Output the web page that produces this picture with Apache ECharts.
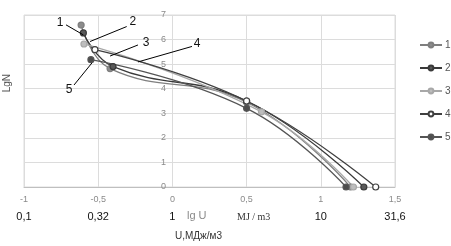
<!DOCTYPE html>
<html>
<head>
<meta charset="utf-8">
<script src="https://cdn.jsdelivr.net/npm/echarts@6/dist/echarts.min.js"></script>
<style>
  html, body { margin: 0; padding: 0; background: #fff; }
  #chart { width: 451px; height: 246px; }
</style>
</head>
<body>
<div id="chart"></div>
<script>
"use strict";
// lg U -> lg N curves, 5 series
const seriesNames = ['1', '2', '3', '4', '5'];
const s1 = [[-0.615, 6.59], [-0.42, 4.82], [0.5, 3.45], [1.20, 0]];
const s2 = [[-0.60, 6.27], [-0.40, 4.90], [0.5, 3.50], [1.29, 0]];
const s3 = [[-0.596, 5.82], [0.6, 3.06], [1.22, 0]];
const s4 = [[-0.522, 5.59], [0.5, 3.50], [1.37, 0]];
const s5 = [[-0.549, 5.18], [0.5, 3.20], [1.17, 0]];
const seriesData = [s1, s2, s3, s4, s5];

// second row of x labels: U in MJ/m3
const lgTicks = [-1, -0.5, 0, 0.5, 1, 1.5];
const uTicks = ['0,1', '0,32', '1', '', '10', '31,6'];

// callout leaders (data coords)
const calloutFrom = [[-0.717, 6.6], [-0.308, 6.53], [-0.232, 5.78], [0.132, 5.72], [-0.663, 4.15]];
const calloutTo = [[-0.60, 6.19], [-0.555, 5.92], [-0.42, 5.33], [-0.232, 5.09], [-0.542, 5.05]];
const calloutText = [[-0.757, 6.68], [-0.266, 6.72], [-0.178, 5.87], [0.166, 5.83], [-0.697, 3.95]];

const lineColors = ['#7f7f7f', '#3a3a3a', '#a8a8a8', '#404040', '#555555'];
const markerFill = ['#8c8c8c', '#595959', '#bdbdbd', '#ffffff', '#4d4d4d'];

function fmt(v) { return String(v).replace('.', ','); }

var myChart = echarts.init(document.getElementById('chart'));

var series = seriesData.map(function (d, i) {
    return {
        name: seriesNames[i],
        type: 'line',
        smooth: 0.45,
        data: d,
        symbol: 'circle',
        symbolSize: 6,
        lineStyle: { color: lineColors[i], width: 1.3 },
        itemStyle: { color: markerFill[i], borderColor: lineColors[i], borderWidth: 1.2 },
        z: 3
    };
});

// leader lines + numbers
series.push({
    name: 'callouts',
    type: 'line',
    data: [],
    markLine: {
        silent: true,
        symbol: 'none',
        label: { show: false },
        lineStyle: { color: '#000', width: 1, type: 'solid' },
        data: calloutFrom.map(function (p, i) {
            return [{ coord: p }, { coord: calloutTo[i] }];
        })
    },
    markPoint: {
        silent: true,
        symbol: 'circle',
        symbolSize: 1,
        itemStyle: { color: 'rgba(0,0,0,0)' },
        label: { show: true, position: 'inside', color: '#111', fontSize: 12, fontFamily: 'Liberation Sans' },
        data: calloutText.map(function (p, i) {
            return { coord: p, value: seriesNames[i] };
        })
    }
});

var option = {
    animation: false,
    textStyle: { fontFamily: 'Liberation Sans' },
    grid: { left: 24, right: 56, top: 15, bottom: 59 },
    legend: {
        data: seriesNames,
        orient: 'vertical',
        left: 414,
        top: 35,
        itemGap: 13,
        itemWidth: 22,
        itemHeight: 6,
        textStyle: { color: '#555', fontSize: 10, padding: [0, 0, 0, -2] }
    },
    xAxis: [{
        type: 'value',
        min: -1, max: 1.5, interval: 0.5,
        axisLine: { show: true, onZero: false, lineStyle: { color: '#bfbfbf' } },
        axisTick: { show: false },
        splitLine: { show: true, lineStyle: { color: '#dcdcdc' } },
        axisLabel: { color: '#8a8a8a', fontSize: 9, margin: 8, formatter: fmt }
    }, {
        type: 'value',
        position: 'bottom',
        offset: 15,
        min: -1, max: 1.5, interval: 0.5,
        axisLine: { show: false, onZero: false },
        axisTick: { show: false },
        splitLine: { show: false },
        axisLabel: {
            color: '#111', fontSize: 11, margin: 9,
            formatter: function (v) {
                var k = lgTicks.indexOf(v);
                return k >= 0 ? uTicks[k] : '';
            }
        }
    }],
    yAxis: {
        type: 'value',
        position: 'left',
        offset: -148,
        min: 0, max: 7, interval: 1,
        axisLine: { show: false },
        axisTick: { show: false },
        splitLine: { show: true, lineStyle: { color: '#dcdcdc' } },
        axisLabel: { color: '#8a8a8a', fontSize: 9, margin: 6 }
    },
    graphic: [
        { type: 'rect', shape: { x: 24, y: 15, width: 371, height: 172 }, style: { fill: 'none', stroke: '#dcdcdc' }, silent: true },
        { type: 'text', left: 2, top: 74, rotation: Math.PI / 2, style: { text: 'LgN', fill: '#555', font: '10px Liberation Sans' } },
        { type: 'text', left: 187, top: 210, style: { text: 'lg U', fill: '#8a8a8a', font: '11px Liberation Sans' } },
        { type: 'text', left: 237, top: 212, style: { text: 'MJ / m3', fill: '#333', font: '10px Liberation Serif' } },
        { type: 'text', left: 175, top: 231, style: { text: 'U,МДж/м3', fill: '#333', font: '10px Liberation Sans' } }
    ],
    series: series
};
myChart.setOption(option);

window.onresize = function () {
    myChart.resize();
};
</script>
</body>
</html>
